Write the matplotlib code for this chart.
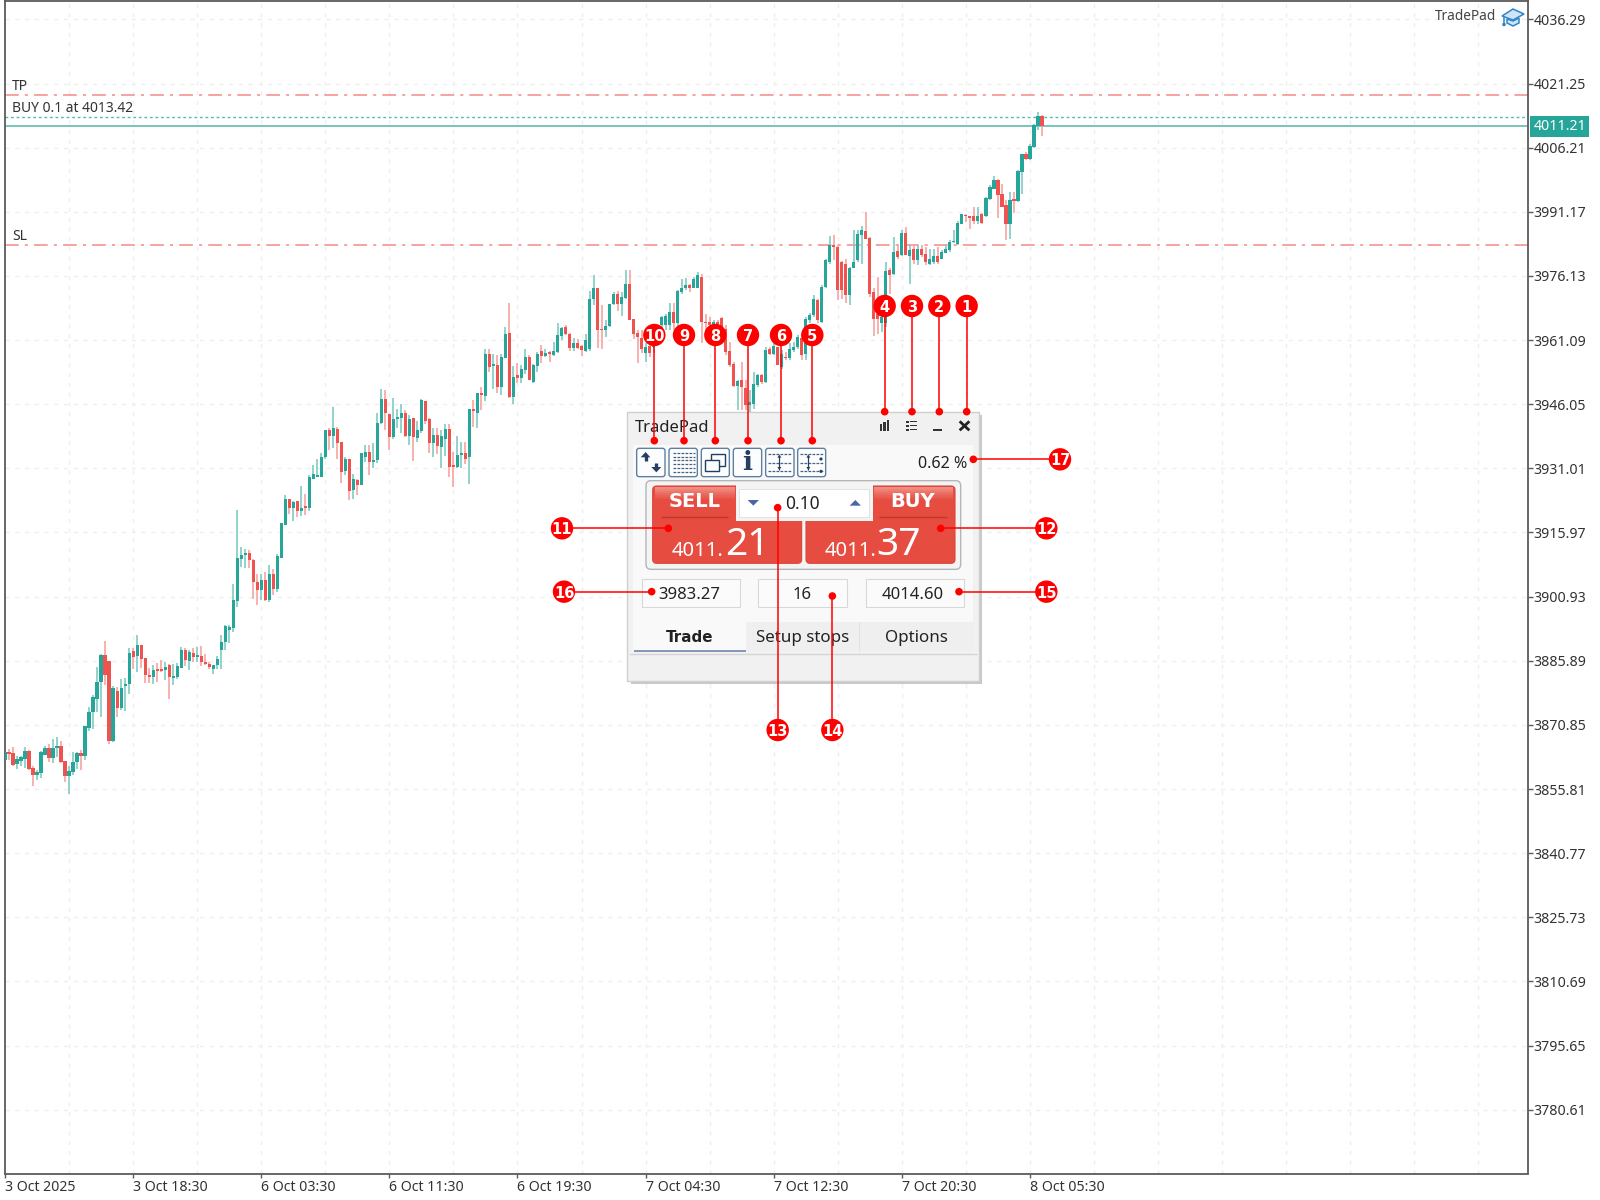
"""plot.py - gold M15 candles with the TradePad panel and numbered callouts."""

import numpy as np
import matplotlib
matplotlib.use("Agg")
import matplotlib.pyplot as plt
from matplotlib.patches import Rectangle, FancyBboxPatch, Circle, Polygon

plt.rcParams["font.family"] = ["Noto Sans", "DejaVu Sans"]

opens = [
    3862.6, 3864.5, 3864.3, 3861.7, 3862.3, 3862.9, 3864.8, 3860.8, 3859.0, 3859.6,
    3863.9, 3865.5, 3863.1, 3865.5, 3865.9, 3862.4, 3858.8, 3859.8, 3862.1, 3864.2,
    3863.5, 3870.2, 3873.9, 3877.0, 3881.0, 3887.2, 3885.9, 3867.0, 3878.7, 3874.7,
    3879.9, 3880.4, 3888.1, 3887.0, 3889.6, 3886.5, 3882.6, 3882.1, 3883.8, 3883.8,
    3883.8, 3884.8, 3881.9, 3882.1, 3884.3, 3888.5, 3885.9, 3887.6, 3886.8, 3887.0,
    3885.7, 3885.2, 3884.0, 3884.8, 3888.3, 3890.4, 3893.1, 3893.5, 3900.0, 3909.7,
    3910.7, 3911.2, 3909.6, 3904.3, 3902.4, 3904.9, 3900.1, 3906.3, 3902.8, 3910.1,
    3917.8, 3923.8, 3921.7, 3923.3, 3921.0, 3922.1, 3921.7, 3928.6, 3929.0, 3929.0,
    3933.6, 3940.1, 3938.6, 3940.3, 3937.2, 3930.4, 3933.2, 3925.9, 3928.2, 3927.2,
    3933.6, 3934.8, 3932.5, 3932.9, 3941.7, 3947.3, 3943.7, 3938.4, 3942.6, 3942.7,
    3943.9, 3938.5, 3942.7, 3938.2, 3939.8, 3946.8, 3942.5, 3937.0, 3938.8, 3936.0,
    3938.0, 3940.3, 3931.5, 3931.4, 3934.2, 3934.6, 3933.7, 3944.9, 3944.0, 3948.7,
    3947.9, 3957.8, 3955.1, 3955.3, 3950.0, 3957.0, 3962.8, 3947.8, 3952.8, 3952.3,
    3954.0, 3957.2, 3951.3, 3955.1, 3958.5, 3957.4, 3958.1, 3957.5, 3958.3, 3962.1,
    3964.2, 3962.6, 3959.2, 3960.3, 3959.7, 3958.5, 3959.1, 3970.7, 3973.4, 3963.7,
    3963.5, 3964.3, 3969.5, 3972.0, 3969.6, 3971.0, 3974.3, 3966.0, 3962.8, 3961.5,
    3958.0, 3959.7, 3959.5, 3961.5, 3964.6, 3964.6, 3964.6, 3967.7, 3965.0, 3972.4,
    3973.2, 3973.9, 3973.3, 3973.4, 3975.9, 3965.4, 3965.4, 3964.2, 3965.4, 3966.3,
    3963.8, 3958.6, 3955.4, 3950.3, 3951.7, 3949.9, 3945.8, 3946.2, 3950.5, 3952.9,
    3951.3, 3958.9, 3957.8, 3959.5, 3954.8, 3957.2, 3956.8, 3958.7, 3959.5, 3961.5,
    3957.9, 3965.7, 3966.9, 3970.4, 3965.4, 3973.6, 3979.4, 3983.3, 3982.9, 3979.4,
    3979.0, 3971.6, 3977.9, 3979.8, 3985.7, 3986.7, 3985.1, 3972.4, 3967.3, 3965.0,
    3965.0, 3977.5, 3976.5, 3982.0, 3981.0, 3986.2, 3980.8, 3982.4, 3979.8, 3982.5,
    3981.2, 3979.0, 3979.4, 3980.7, 3980.2, 3981.5, 3982.2, 3984.0, 3983.6, 3988.4,
    3990.4, 3990.3, 3990.1, 3989.0, 3990.7, 3990.1, 3994.2, 3996.6, 3998.7, 3995.3,
    3992.7, 3988.4, 3994.2, 3993.7, 4000.5, 4004.8, 4003.6, 4006.4, 4011.4, 4013.6,
]
highs = [
    3864.5, 3865.2, 3865.6, 3863.6, 3863.6, 3865.6, 3865.0, 3861.1, 3860.3, 3864.7,
    3865.8, 3866.4, 3867.6, 3867.9, 3867.1, 3862.4, 3861.3, 3864.5, 3864.5, 3865.0,
    3870.6, 3875.1, 3877.8, 3884.5, 3887.4, 3890.6, 3885.9, 3879.9, 3879.8, 3881.5,
    3881.9, 3888.8, 3888.8, 3891.9, 3889.7, 3886.6, 3884.1, 3884.8, 3885.4, 3886.0,
    3885.6, 3885.2, 3885.2, 3885.4, 3889.1, 3888.8, 3888.5, 3888.8, 3889.0, 3889.3,
    3887.4, 3885.6, 3885.0, 3887.0, 3892.0, 3894.2, 3894.2, 3904.0, 3921.3, 3912.6,
    3912.1, 3911.8, 3909.8, 3906.3, 3906.2, 3906.7, 3908.3, 3907.5, 3911.0, 3918.2,
    3924.7, 3923.9, 3923.4, 3923.4, 3926.8, 3925.1, 3929.5, 3931.8, 3933.1, 3934.7,
    3940.0, 3940.4, 3945.4, 3940.8, 3937.2, 3933.7, 3933.2, 3929.8, 3928.6, 3934.7,
    3936.4, 3936.4, 3937.0, 3943.9, 3949.7, 3949.3, 3943.7, 3947.4, 3945.0, 3946.0,
    3944.7, 3943.5, 3942.7, 3942.1, 3947.2, 3946.8, 3942.7, 3940.4, 3940.4, 3940.0,
    3941.4, 3941.4, 3934.9, 3938.5, 3937.1, 3937.2, 3945.0, 3947.1, 3948.7, 3950.1,
    3958.9, 3959.0, 3957.8, 3957.5, 3957.9, 3964.2, 3969.8, 3955.0, 3955.6, 3955.2,
    3959.0, 3957.7, 3955.4, 3958.2, 3959.9, 3959.0, 3958.5, 3960.7, 3965.1, 3964.2,
    3964.6, 3962.8, 3961.6, 3961.4, 3959.9, 3962.5, 3972.6, 3976.4, 3973.4, 3969.3,
    3965.7, 3969.6, 3972.4, 3972.6, 3972.4, 3977.6, 3977.6, 3966.1, 3963.5, 3963.4,
    3960.3, 3960.7, 3963.4, 3964.6, 3966.7, 3967.3, 3969.7, 3969.7, 3972.8, 3975.5,
    3975.7, 3974.3, 3975.9, 3977.1, 3976.7, 3967.2, 3966.5, 3965.9, 3965.8, 3966.5,
    3964.6, 3960.7, 3956.0, 3951.7, 3956.0, 3951.8, 3949.3, 3953.6, 3953.2, 3953.2,
    3959.5, 3959.5, 3960.7, 3959.5, 3958.7, 3958.3, 3960.3, 3960.7, 3962.2, 3962.2,
    3966.5, 3967.5, 3971.6, 3970.8, 3973.9, 3980.2, 3985.4, 3985.7, 3983.3, 3979.7,
    3980.2, 3978.3, 3986.8, 3986.8, 3987.8, 3991.1, 3985.3, 3973.2, 3975.9, 3968.1,
    3979.4, 3977.9, 3985.3, 3983.7, 3986.8, 3987.6, 3983.3, 3983.7, 3983.3, 3983.3,
    3982.9, 3982.5, 3982.5, 3982.9, 3982.2, 3983.3, 3984.5, 3986.8, 3989.0, 3990.7,
    3990.6, 3990.3, 3992.3, 3992.3, 3990.9, 3994.6, 3997.4, 3999.5, 3998.9, 3997.8,
    3993.9, 3995.8, 3995.8, 4000.9, 4004.8, 4005.2, 4007.1, 4011.8, 4014.6, 4013.8,
]
lows = [
    3862.6, 3862.5, 3861.3, 3860.4, 3861.3, 3860.8, 3860.3, 3856.6, 3858.0, 3858.4,
    3863.7, 3862.1, 3861.9, 3863.3, 3861.9, 3857.4, 3854.7, 3859.2, 3860.5, 3860.3,
    3862.6, 3869.4, 3870.0, 3873.9, 3872.6, 3880.1, 3866.3, 3866.8, 3872.6, 3874.3,
    3874.1, 3878.0, 3883.9, 3883.3, 3884.1, 3880.7, 3880.7, 3880.5, 3880.9, 3883.3,
    3881.3, 3877.0, 3880.1, 3881.5, 3884.1, 3884.6, 3883.7, 3885.6, 3885.6, 3884.6,
    3884.8, 3883.9, 3882.7, 3884.0, 3884.0, 3888.3, 3890.1, 3892.7, 3898.5, 3907.9,
    3907.7, 3907.7, 3900.3, 3898.9, 3900.1, 3899.9, 3899.7, 3901.3, 3902.0, 3910.0,
    3917.7, 3920.4, 3918.7, 3919.5, 3919.9, 3920.0, 3921.0, 3928.4, 3928.9, 3928.9,
    3933.1, 3935.4, 3935.7, 3933.3, 3927.5, 3929.4, 3923.5, 3923.9, 3924.7, 3927.1,
    3932.5, 3929.4, 3931.2, 3932.3, 3941.5, 3940.1, 3935.4, 3937.8, 3940.4, 3939.2,
    3938.4, 3936.5, 3932.8, 3937.2, 3939.2, 3941.5, 3934.7, 3933.7, 3934.3, 3931.2,
    3933.9, 3929.0, 3926.7, 3931.0, 3931.0, 3932.1, 3927.3, 3940.7, 3940.4, 3944.6,
    3946.8, 3953.6, 3949.7, 3948.7, 3948.2, 3956.8, 3947.4, 3946.0, 3951.0, 3951.0,
    3953.2, 3951.7, 3951.1, 3953.6, 3955.8, 3957.1, 3956.0, 3957.3, 3958.1, 3961.1,
    3962.2, 3958.5, 3958.5, 3958.9, 3957.4, 3958.3, 3958.5, 3969.3, 3959.3, 3958.9,
    3961.7, 3964.2, 3969.3, 3967.9, 3966.7, 3970.8, 3965.7, 3961.4, 3955.7, 3958.0,
    3956.0, 3957.2, 3958.0, 3960.3, 3963.4, 3963.4, 3963.4, 3963.4, 3963.4, 3972.0,
    3972.8, 3972.4, 3973.2, 3973.2, 3960.3, 3961.9, 3962.7, 3963.4, 3963.0, 3961.9,
    3957.5, 3954.8, 3950.1, 3944.7, 3944.7, 3944.7, 3944.2, 3945.0, 3950.1, 3950.9,
    3951.1, 3957.5, 3957.5, 3955.2, 3954.4, 3956.4, 3956.4, 3958.3, 3959.1, 3956.4,
    3956.5, 3965.0, 3966.5, 3965.0, 3965.0, 3973.2, 3979.0, 3979.8, 3970.6, 3970.8,
    3969.7, 3969.3, 3977.9, 3979.4, 3979.0, 3984.9, 3971.2, 3962.0, 3962.6, 3963.0,
    3964.2, 3972.0, 3976.3, 3980.2, 3980.8, 3981.0, 3974.2, 3979.0, 3978.6, 3980.6,
    3978.6, 3978.6, 3979.0, 3979.0, 3980.0, 3981.4, 3981.8, 3983.9, 3983.3, 3988.2,
    3988.8, 3987.2, 3988.4, 3988.4, 3988.4, 3990.0, 3994.0, 3996.4, 3989.6, 3992.2,
    3984.5, 3984.9, 3990.9, 3993.5, 3995.4, 4003.2, 4003.4, 4006.2, 4010.3, 4008.9,
]
closes = [
    3864.5, 3864.1, 3861.5, 3862.8, 3863.3, 3864.7, 3860.5, 3859.0, 3859.8, 3864.5,
    3865.5, 3863.1, 3865.5, 3865.9, 3862.1, 3858.8, 3860.0, 3862.1, 3864.2, 3863.5,
    3870.6, 3873.9, 3877.4, 3881.0, 3887.2, 3882.5, 3867.0, 3879.6, 3874.7, 3879.6,
    3880.5, 3887.8, 3886.8, 3889.5, 3886.3, 3882.5, 3882.1, 3883.8, 3883.5, 3883.5,
    3884.5, 3882.1, 3882.4, 3884.6, 3888.4, 3886.0, 3887.9, 3886.8, 3887.0, 3885.7,
    3885.1, 3884.5, 3884.8, 3886.4, 3890.4, 3894.0, 3893.7, 3900.1, 3910.1, 3910.6,
    3911.1, 3909.5, 3904.3, 3902.4, 3904.9, 3900.2, 3906.2, 3902.8, 3910.4, 3918.2,
    3923.8, 3921.8, 3923.2, 3921.0, 3921.8, 3921.8, 3928.9, 3929.6, 3929.4, 3933.7,
    3940.0, 3938.6, 3940.5, 3937.0, 3930.2, 3933.1, 3925.8, 3928.4, 3927.1, 3934.5,
    3934.8, 3932.4, 3932.9, 3941.7, 3947.3, 3943.9, 3938.4, 3942.6, 3943.1, 3944.0,
    3938.5, 3942.5, 3938.4, 3940.0, 3947.0, 3942.1, 3937.0, 3938.8, 3936.2, 3938.5,
    3940.3, 3931.4, 3931.4, 3934.1, 3934.6, 3933.2, 3945.0, 3944.5, 3948.7, 3948.2,
    3957.8, 3954.8, 3955.3, 3950.0, 3957.1, 3962.6, 3947.8, 3952.5, 3952.3, 3954.2,
    3957.2, 3951.8, 3955.3, 3957.9, 3957.4, 3958.1, 3957.8, 3958.5, 3962.3, 3964.0,
    3962.5, 3959.3, 3960.3, 3959.3, 3958.7, 3961.2, 3970.7, 3973.4, 3963.5, 3963.4,
    3964.5, 3969.5, 3972.0, 3969.5, 3971.2, 3974.3, 3965.9, 3962.6, 3961.7, 3959.1,
    3959.5, 3958.0, 3961.5, 3963.0, 3966.5, 3966.7, 3967.7, 3965.0, 3972.6, 3973.4,
    3973.9, 3973.2, 3975.5, 3976.3, 3965.4, 3965.0, 3964.6, 3965.4, 3964.7, 3963.4,
    3958.3, 3955.2, 3950.3, 3951.5, 3950.1, 3945.8, 3946.6, 3950.9, 3952.9, 3951.3,
    3958.7, 3957.8, 3959.7, 3955.2, 3957.9, 3956.8, 3959.1, 3959.5, 3961.9, 3957.5,
    3966.1, 3966.9, 3970.8, 3965.7, 3973.6, 3979.8, 3983.3, 3982.8, 3972.8, 3972.8,
    3971.6, 3978.1, 3979.4, 3986.0, 3986.8, 3984.9, 3972.0, 3966.1, 3966.1, 3966.5,
    3977.2, 3976.3, 3981.8, 3980.6, 3986.2, 3981.0, 3982.3, 3979.8, 3982.5, 3981.0,
    3979.4, 3980.2, 3980.7, 3979.4, 3981.8, 3982.5, 3984.1, 3984.3, 3988.6, 3990.6,
    3990.1, 3989.6, 3989.0, 3990.1, 3988.6, 3994.5, 3997.0, 3998.7, 3995.0, 3992.3,
    3988.4, 3994.0, 3993.7, 4000.7, 4004.8, 4003.5, 4006.5, 4011.6, 4013.6, 4011.21,
]

price_ticks = [4036.29, 4021.25, 4006.21, 3991.17, 3976.13, 3961.09, 3946.05, 3931.01, 3915.97,
               3900.93, 3885.89, 3870.85, 3855.81, 3840.77, 3825.73, 3810.69, 3795.65, 3780.61]
date_labels = ["3 Oct 2025", "3 Oct 18:30", "6 Oct 03:30", "6 Oct 11:30", "6 Oct 19:30",
               "7 Oct 04:30", "7 Oct 12:30", "7 Oct 20:30", "8 Oct 05:30"]
bars_per_label = 32
bars_per_grid = 16

tp_price = 4018.6
entry_price = 4013.42
bid_price = 4011.21
sl_price = 3983.27
entry_label = "BUY 0.1 at 4013.42"

callouts = [
    ("1", 1100, 78, 1100, 395), ("2", 1018, 78, 1018, 395), ("3", 936, 78, 936, 395),
    ("4", 854, 78, 854, 395), ("5", 637, 165, 637, 482), ("6", 543, 165, 543, 482),
    ("7", 444, 165, 444, 482), ("8", 346, 165, 346, 482), ("9", 252, 165, 252, 482),
    ("10", 163, 165, 163, 482), ("11", -114, 745, 205, 745), ("12", 1339, 745, 1022, 745),
    ("13", 533, 1350, 533, 683), ("14", 697, 1350, 697, 948), ("15", 1339, 935, 1077, 935),
    ("16", -108, 935, 155, 935), ("17", 1380, 538, 1120, 538),
]

GREEN = "#26A69A"
RED = "#EF5350"
GREEN_WICK = "#80CBC4"
RED_WICK = "#F7A3A1"
TEXT = "#333333"
FRAME = "#5A5A5A"
GRID = "#EFEFEF"
NAVY = "#25405E"
CALLOUT = "#FF0000"


def draw_chart(ax):
    x = np.arange(len(opens))
    o, h, l, c = map(np.array, (opens, highs, lows, closes))
    up = c >= o

    for gx in np.arange(bars_per_grid, 380, bars_per_grid):
        ax.axvline(gx, color=GRID, lw=1, ls=(0, (3, 4)), zorder=0)
    for p in price_ticks:
        ax.axhline(p, color=GRID, lw=1, ls=(0, (3, 4)), zorder=0)

    ax.vlines(x[up], l[up], h[up], color=GREEN_WICK, lw=1.2, zorder=2)
    ax.vlines(x[~up], l[~up], h[~up], color=RED_WICK, lw=1.2, zorder=2)
    heights = np.maximum(np.abs(c - o), 0.4)
    bottoms = np.minimum(o, c)
    ax.bar(x[up], heights[up], 0.8, bottoms[up], color=GREEN, lw=0, zorder=3)
    ax.bar(x[~up], heights[~up], 0.8, bottoms[~up], color=RED, lw=0, zorder=3)

    ax.axhline(tp_price, color="#F58A86", lw=1.1, ls=(0, (9, 4, 2, 4)), zorder=1)
    ax.axhline(sl_price, color="#F58A86", lw=1.1, ls=(0, (9, 4, 2, 4)), zorder=1)
    ax.axhline(entry_price, color="#4DBFB2", lw=1.0, ls=(0, (2, 2)), zorder=1)
    ax.axhline(bid_price, color="#6CC2B8", lw=1.3, zorder=1)

    ax.text(1.7, tp_price + 0.25, "TP", fontsize=10, color=TEXT, ha="left", va="bottom")
    ax.text(1.7, entry_price + 0.25, entry_label, fontsize=10, color=TEXT, ha="left", va="bottom")
    ax.text(1.7, sl_price + 0.25, "SL", fontsize=10, color=TEXT, ha="left", va="bottom")

    ax.set_xlim(0.02, 380.4)
    ax.set_ylim(3765.65, 4040.72)
    ax.yaxis.tick_right()
    ax.set_yticks(price_ticks, [f"{p:.2f}" for p in price_ticks])
    ax.tick_params(axis="y", length=3.6, width=1, color=FRAME, pad=0.5, labelsize=10.2, labelcolor=TEXT)
    ticks = np.arange(len(date_labels)) * bars_per_label
    ax.set_xticks(ticks, date_labels, ha="left")
    ax.tick_params(axis="x", length=3, width=1, color=FRAME, pad=2, labelsize=10.2, labelcolor=TEXT)
    for s in ax.spines.values():
        s.set_color(FRAME)
        s.set_linewidth(1.3)

    ax.text(1.0036, bid_price, f"{bid_price:.2f}", transform=ax.get_yaxis_transform(),
            fontsize=10.2, color="white", ha="left", va="center", zorder=6,
            bbox=dict(boxstyle="square,pad=0.22", fc="#26A69A", ec="none"))


# the panel is a screenshot of a UI, so it is placed in the pixel grid of the 3x crop
def px(z):
    return 600 + z / 3


def py(z):
    return 280 + z / 3


def box(ov, x0, y0, x1, y1, fc, ec="none", lw=0.8, round_px=0, z=10):
    if round_px:
        p = FancyBboxPatch((px(x0), py(y0)), (x1 - x0) / 3, (y1 - y0) / 3,
                           boxstyle=f"round,pad=0,rounding_size={round_px}",
                           fc=fc, ec=ec, lw=lw, zorder=z)
    else:
        p = Rectangle((px(x0), py(y0)), (x1 - x0) / 3, (y1 - y0) / 3, fc=fc, ec=ec, lw=lw, zorder=z)
    ov.add_patch(p)


def seg(ov, x0, y0, x1, y1, color=NAVY, lw=1.0, ls="-", z=13):
    ov.plot([px(x0), px(x1)], [py(y0), py(y1)], color=color, lw=lw, ls=ls, zorder=z,
            solid_capstyle="butt")


def tri(ov, pts, color=NAVY, z=13):
    ov.add_patch(Polygon([(px(a), py(b)) for a, b in pts], closed=True, fc=color, ec="none", zorder=z))


def label(ov, zx, zy, s, size, color="#222222", weight="normal", ha="center", va="center", z=14):
    # Noto Sans has no bold here, DejaVu has; centred text sits a little high, hence the +5
    family = "DejaVu Sans" if weight == "bold" else None
    ov.text(px(zx), py(zy + 5 if va == "center" else zy), s, fontsize=size, color=color,
            fontweight=weight, family=family, ha=ha, va=va, zorder=z)


def sheen(ov, x0, x1):
    # lighter top edge of the SELL and BUY tabs, fades down into the button colour
    steps = ["#F08D83", "#EE8277", "#EC766B", "#EA6A5F", "#E96055", "#E8574B"]
    for i, col in enumerate(steps):
        box(ov, x0, 622 + i * 6, x1, 628 + i * 6, col, z=12.5)


def draw_toolbar(ov):
    dash = (0, (2.2, 1.0))
    buttons = [(110, 195), (207, 292), (304, 388), (400, 485), (497, 582), (593, 677)]
    for a, b in buttons:
        box(ov, a, 505, b, 590, "#FCFDFE", "#5F7F9F", 1.0, round_px=2.5, z=12)

    # swap arrows
    tri(ov, [(122, 532), (137, 516), (151, 532)])
    seg(ov, 137, 528, 137, 544, lw=2.4)
    tri(ov, [(154, 561), (169, 577), (184, 561)])
    seg(ov, 169, 550, 169, 565, lw=2.4)
    # table of dashes
    for zy in (518, 530, 541, 552, 564, 576):
        seg(ov, 218, zy, 284, zy, "#49607A", 0.9, dash)
    # two windows
    box(ov, 334, 522, 374, 558, "#FCFDFE", NAVY, 1.0, z=13)
    box(ov, 316, 540, 358, 574, "#FCFDFE", NAVY, 1.0, z=13)
    # info
    ov.text(px(442), py(548), "i", fontsize=19, fontweight="bold", family="DejaVu Serif",
            color=NAVY, ha="center", va="center", zorder=14)
    # distance between levels
    for zy in (522, 548, 572):
        seg(ov, 504, zy, 576, zy, "#49607A", 0.9, dash)
    seg(ov, 538, 524, 538, 570, lw=0.9)
    tri(ov, [(532, 533), (538, 524), (544, 533)])
    tri(ov, [(532, 561), (538, 570), (544, 561)])
    for zy in (522, 548, 574):
        seg(ov, 600, zy, 668, zy, "#49607A", 0.9, dash)
    seg(ov, 625, 524, 625, 570, lw=0.9)
    tri(ov, [(619, 533), (625, 524), (631, 533)])
    tri(ov, [(619, 561), (625, 570), (631, 561)])
    ov.add_patch(Circle((px(663), py(537)), 1.6, fc=NAVY, zorder=14))
    ov.add_patch(Circle((px(663), py(574)), 1.6, fc=NAVY, zorder=14))


def draw_panel(ov):
    # shadow, body, content
    box(ov, 92, 405, 1145, 1212, "#C9C9C9", z=9)
    box(ov, 82, 395, 1137, 1203, "#F1F1F1", "#CFCFCF", 1.0, z=10)
    box(ov, 100, 495, 1118, 1112, "#F9F9F9", z=10)
    label(ov, 105, 440, "TradePad", 12, ha="left")

    # window icons
    for a, top in ((839, 432), (850, 426), (861, 421)):
        box(ov, a, top, a + 7, 452, "#333333", z=12)
    for zy in (425, 437, 449):
        box(ov, 919, zy - 3, 926, zy + 3, "#333333", z=12)
        box(ov, 931, zy - 2, 950, zy + 2, "#333333", z=12)
    box(ov, 998, 447, 1027, 453, "#333333", z=12)
    seg(ov, 1079, 424, 1108, 451, "#222222", 2.0)
    seg(ov, 1108, 424, 1079, 451, "#222222", 2.0)

    draw_toolbar(ov)
    label(ov, 1102, 548, "0.62 %", 11.6, ha="right")

    # trade block
    box(ov, 138, 602, 1082, 868, "#F4F4F4", "#B5B5B5", 1.0, round_px=5, z=11)
    box(ov, 158, 618, 605, 850, "#E64C3F", "#D9483C", 0.8, round_px=4, z=12)
    box(ov, 618, 618, 1065, 850, "#E64C3F", "#D9483C", 0.8, round_px=4, z=12)
    sheen(ov, 164, 404)
    sheen(ov, 822, 1059)
    box(ov, 408, 610, 818, 722, "#F4F4F4", z=13)
    box(ov, 418, 628, 808, 710, "#FFFFFF", "#DDDDDD", 0.6, z=13)
    seg(ov, 182, 710, 385, 710, "#C0362B", 1.0)
    seg(ov, 838, 710, 1041, 710, "#C0362B", 1.0)
    label(ov, 283, 660, "SELL", 14, "white", "bold")
    label(ov, 938, 660, "BUY", 14, "white", "bold")
    label(ov, 372, 828, "4011.", 14.5, "white", ha="right", va="baseline")
    label(ov, 376, 825, "21", 28, "white", ha="left", va="baseline")
    label(ov, 830, 828, "4011.", 14.5, "white", ha="right", va="baseline")
    label(ov, 830, 825, "37", 28, "white", ha="left", va="baseline")
    label(ov, 608, 668, "0.10", 12.5)
    tri(ov, [(443, 660), (477, 660), (460, 677)], "#4A66A6", z=14)
    tri(ov, [(749, 677), (783, 677), (766, 660)], "#4A66A6", z=14)

    # stops
    for a, b, s, c in ((126, 420, "3983.27", 268), (475, 742, "16", 607), (797, 1092, "4014.60", 938)):
        box(ov, a, 898, b, 980, "#FBFBFB", "#D8D8D8", 0.8, z=12)
        label(ov, c, 941, s, 12)

    # tabs
    box(ov, 438, 1025, 778, 1112, "#EFEFEF", z=11)
    box(ov, 778, 1025, 1118, 1112, "#EFEFEF", z=11)
    seg(ov, 778, 1025, 778, 1112, "#E3E3E3", 0.8)
    seg(ov, 101, 1114, 438, 1114, "#7184B0", 1.2)
    seg(ov, 88, 1123, 1132, 1123, "#D5D5D5", 1.0)
    label(ov, 270, 1068, "Trade", 10.9, weight="bold")
    label(ov, 608, 1068, "Setup stops", 12.2)
    label(ov, 950, 1068, "Options", 12.2)


def draw_callouts(ov):
    for num, cx, cy, dx, dy in callouts:
        seg(ov, cx, cy, dx, dy, CALLOUT, 1.1, z=20)
        ov.add_patch(Circle((px(dx), py(dy)), 3.8, fc=CALLOUT, ec="none", zorder=21))
        ov.add_patch(Circle((px(cx), py(cy)), 11.2, fc=CALLOUT, ec="none", zorder=21))
        ov.text(px(cx), py(cy), num, fontsize=10.5, fontweight="bold", family="DejaVu Sans",
                color="white", ha="center", va="center_baseline", zorder=22)


def draw_brand(ov):
    # mortarboard next to the indicator name, top right
    blue = "#2F86C8"
    ov.text(1496, 17, "TradePad", fontsize=9.8, color="#444444", ha="right", va="center")
    ov.add_patch(Polygon([(1502, 16), (1513, 9), (1524, 14), (1513, 20)], closed=True,
                         fc="#CFE4F5", ec=blue, lw=1.1, zorder=5))
    ov.add_patch(Polygon([(1507, 19), (1507, 23), (1513, 26), (1519, 23), (1519, 18), (1513, 21)],
                         closed=True, fc="#CFE4F5", ec=blue, lw=1.1, zorder=5))
    ov.plot([1504, 1504], [17, 24], color=blue, lw=1.1, zorder=5)
    ov.add_patch(Circle((1504, 24.5), 1.8, fc=blue, ec="none", zorder=5))


def main():
    fig = plt.figure(figsize=(16, 12), dpi=100)
    ax = fig.add_axes([5 / 1600, 1 - 1173.5 / 1200, (1528 - 5) / 1600, 1173 / 1200])
    draw_chart(ax)

    ov = fig.add_axes([0, 0, 1, 1], facecolor="none")
    ov.set_xlim(0, 1600)
    ov.set_ylim(1200, 0)
    ov.axis("off")
    draw_brand(ov)
    draw_panel(ov)
    draw_callouts(ov)

    fig.savefig("out.png", dpi=100)
    plt.close(fig)


if __name__ == "__main__":
    main()
